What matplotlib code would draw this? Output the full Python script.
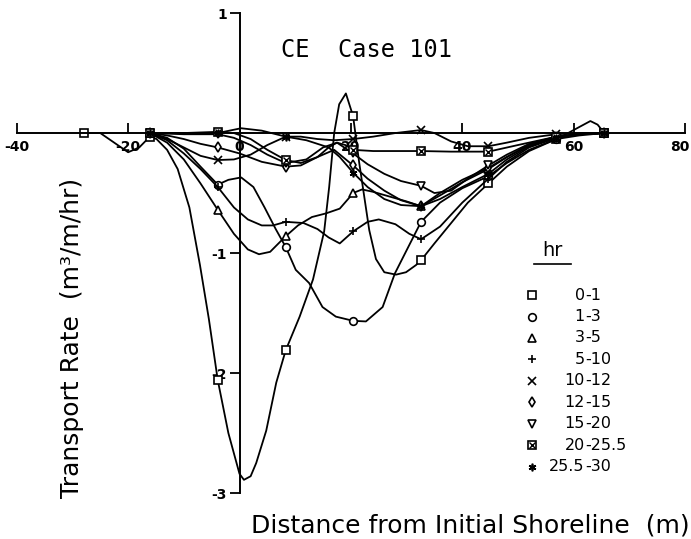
## CE Case 101 - transport rate profiles

import numpy as np
import matplotlib.pyplot as plt
import matplotlib.transforms as mtransforms

plt.rcParams['axes.unicode_minus'] = False

# stations where the measured values carry a symbol (m)
stations = [-28.0, -16.1, -3.9, 8.3, 20.4, 32.6, 44.7, 56.9, 65.5]

# time intervals (hr)
labels = ['0-1', '1-3', '3-5', '5-10', '10-12', '12-15', '15-20', '20-25.5', '25.5-30']

# curves (x in m, y in m3/m/hr)
x_01 = [-28.0, -25.0, -22.5, -20.0, -18.0, -16.1, -14.9, -13.0, -11.1, -9.0, -7.1, -5.5, -3.9,
        -2.0, 0.0, 0.8, 2.0, 3.0, 4.8, 6.6, 8.3, 10.8, 13.2, 15.2, 16.1, 17.0, 17.9, 19.1, 20.4,
        21.5, 22.4, 23.3, 24.5, 26.0, 28.1, 29.9, 31.7, 32.6, 35.0, 38.0, 41.0, 44.7, 48.0, 52.0,
        56.9, 59.0, 61.0, 63.0, 64.3, 65.5]
y_01 = [0.0, 0.0, -0.08, -0.16, -0.12, -0.03, -0.05, -0.14, -0.30, -0.62, -1.10, -1.55, -2.06,
        -2.50, -2.84, -2.89, -2.86, -2.75, -2.48, -2.08, -1.81, -1.53, -1.22, -0.82, -0.45, 0.00,
        0.24, 0.33, 0.14, -0.25, -0.53, -0.81, -1.05, -1.16, -1.18, -1.16, -1.10, -1.06, -0.92,
        -0.75, -0.58, -0.42, -0.28, -0.15, -0.05, 0.0, 0.05, 0.10, 0.07, 0.0]

x_13 = [-16.1, -13.0, -10.0, -7.0, -3.9, -2.0, 0.3, 2.5, 4.5, 6.5, 8.3, 10.1, 12.5, 14.9, 17.3,
        20.4, 22.7, 25.7, 27.9, 30.3, 32.6, 36.0, 40.0, 44.7, 48.0, 52.0, 56.9, 61.0, 65.5]
y_13 = [0.0, -0.04, -0.13, -0.28, -0.43, -0.39, -0.37, -0.45, -0.62, -0.80, -0.95, -1.14, -1.25,
        -1.45, -1.53, -1.565, -1.57, -1.45, -1.17, -0.95, -0.74, -0.58, -0.46, -0.36, -0.25,
        -0.14, -0.05, -0.02, 0.0]

x_35 = [-16.1, -13.0, -10.0, -7.0, -3.9, -1.0, 1.5, 3.5, 5.5, 7.0, 8.3, 10.5, 13.0, 15.5, 18.0,
        19.5, 20.4, 22.0, 24.0, 27.0, 30.0, 32.6, 36.0, 40.0, 44.7, 48.0, 52.0, 56.9, 61.0, 65.5]
y_35 = [0.0, -0.08, -0.22, -0.42, -0.64, -0.84, -0.97, -1.01, -0.99, -0.92, -0.86, -0.77, -0.70,
        -0.67, -0.63, -0.55, -0.50, -0.47, -0.49, -0.53, -0.57, -0.61, -0.52, -0.41, -0.30,
        -0.20, -0.10, -0.03, -0.01, 0.0]

x_510 = [-16.1, -13.0, -10.0, -7.0, -3.9, -1.0, 1.5, 4.0, 6.0, 8.3, 11.5, 14.0, 16.0, 18.0, 20.4,
         23.0, 25.0, 28.0, 30.5, 32.6, 36.0, 40.0, 44.7, 48.0, 52.0, 56.9, 61.0, 65.5]
y_510 = [0.0, -0.06, -0.17, -0.30, -0.45, -0.62, -0.72, -0.77, -0.77, -0.74, -0.75, -0.80, -0.87,
         -0.92, -0.82, -0.74, -0.72, -0.76, -0.84, -0.885, -0.78, -0.58, -0.38, -0.24, -0.12,
         -0.04, -0.01, 0.0]

x_1012 = [-16.1, -13.0, -10.0, -7.0, -3.9, -1.0, 2.0, 5.0, 8.3, 11.0, 14.0, 17.0, 20.4, 24.0,
          28.0, 32.6, 35.0, 38.0, 41.0, 44.7, 48.0, 52.0, 56.9, 61.0, 65.5]
y_1012 = [0.0, -0.05, -0.12, -0.19, -0.225, -0.22, -0.18, -0.10, -0.03, -0.03, -0.05, -0.06,
          -0.05, -0.03, 0.0, 0.025, 0.0, -0.07, -0.11, -0.11, -0.08, -0.04, -0.01, 0.0, 0.0]

x_1215 = [-16.1, -13.0, -10.0, -7.0, -3.9, 0.0, 4.0, 8.3, 11.0, 14.0, 17.0, 20.4, 23.0, 26.0,
          29.0, 32.6, 36.0, 40.0, 44.7, 48.0, 52.0, 56.9, 61.0, 65.5]
y_1215 = [0.0, -0.02, -0.05, -0.09, -0.12, -0.17, -0.24, -0.28, -0.27, -0.20, -0.14, -0.27,
          -0.38, -0.48, -0.56, -0.61, -0.50, -0.39, -0.29, -0.20, -0.10, -0.03, -0.01, 0.0]

x_1520 = [-16.1, -10.0, -3.9, -1.0, 2.0, 5.0, 8.3, 12.0, 15.0, 17.5, 20.4, 23.0, 26.0, 29.0,
          32.6, 35.0, 38.0, 41.0, 44.7, 48.0, 52.0, 56.9, 61.0, 65.5]
y_1520 = [0.0, -0.01, -0.01, -0.04, -0.10, -0.18, -0.25, -0.22, -0.12, -0.08, -0.17, -0.26,
          -0.34, -0.40, -0.44, -0.50, -0.48, -0.38, -0.27, -0.18, -0.09, -0.03, -0.01, 0.0]

x_2025 = [-16.1, -10.0, -3.9, -1.0, 2.0, 5.0, 8.3, 11.0, 14.0, 16.0, 17.5, 19.0, 20.4, 24.0,
          28.0, 32.6, 38.0, 44.7, 50.0, 56.9, 61.0, 65.5]
y_2025 = [0.0, 0.0, 0.01, 0.0, -0.05, -0.14, -0.225, -0.25, -0.20, -0.12, -0.08, -0.10, -0.14,
          -0.15, -0.15, -0.15, -0.155, -0.155, -0.10, -0.03, -0.01, 0.0]

x_2530 = [-16.1, -10.0, -3.9, 0.3, 4.0, 8.3, 12.0, 16.0, 18.0, 20.4, 23.0, 26.0, 29.0, 32.6,
          36.0, 40.0, 44.7, 48.0, 52.0, 56.9, 61.0, 65.5]
y_2530 = [0.0, 0.0, 0.0, 0.04, 0.02, -0.03, -0.06, -0.12, -0.20, -0.33, -0.45, -0.55, -0.60,
          -0.61, -0.55, -0.45, -0.34, -0.22, -0.11, -0.04, -0.01, 0.0]

xs = [x_01, x_13, x_35, x_510, x_1012, x_1215, x_1520, x_2025, x_2530]
ys = [y_01, y_13, y_35, y_510, y_1012, y_1215, y_1520, y_2025, y_2530]
marks = ['s', 'o', '^', '+', 'x', 'd', 'v', 's', (6, 2, 0)]

fig = plt.figure(figsize=(6.91, 5.39), dpi=100)
ax = fig.add_axes([0.0242, 0.0853, 0.9672, 0.8905])

for x, y, m in zip(xs, ys, marks):
    x = np.array(x)
    y = np.array(y)
    on = np.isin(x, stations)
    ax.plot(x, y, color='k', lw=1.3, marker=m, markevery=list(np.where(on)[0]),
            ms=5.5, mfc='white', mec='k', mew=1.2, zorder=2)

# cross inside the 20-25.5 squares
x = np.array(x_2025)
on = np.isin(x, stations)
ax.plot(x[on], np.array(y_2025)[on], 'x', color='k', ms=4, mew=1.0, zorder=3)

ax.set_xlim(-40, 80)
ax.set_ylim(-3, 1)
ax.spines['left'].set_position(('data', 0))
ax.spines['bottom'].set_position(('data', 0))
ax.spines['top'].set_visible(False)
ax.spines['right'].set_visible(False)
ax.spines['left'].set_linewidth(1.4)
ax.spines['bottom'].set_linewidth(1.4)

ax.set_xticks([-40, -20, 0, 20, 40, 60, 80])
ax.set_yticks([-3, -2, -1, 1])
ax.tick_params(axis='x', direction='in', length=7, width=1.3, pad=5, labelsize=10)
ax.tick_params(axis='y', direction='out', length=7, width=1.3, pad=2, labelsize=10)
for t in ax.get_xticklabels() + ax.get_yticklabels():
    t.set_fontweight('bold')
# keep the last label inside the figure
last = ax.get_xticklabels()[-1]
last.set_transform(last.get_transform() + mtransforms.ScaledTranslation(-5 / 100, 0, fig.dpi_scale_trans))

ax.text(7.49, 0.636, 'CE  Case 101', family='DejaVu Sans Mono', fontsize=17, va='baseline')

# legend drawn by hand
ax.text(56.1, -0.983, 'hr', fontsize=14, ha='center', va='center')
ax.plot([52.9, 59.5], [-1.09, -1.09], color='k', lw=1.2)
for i, (lab, m) in enumerate(zip(labels, marks)):
    yy = -1.35 - i * 0.179
    ax.plot(52.5, yy, marker=m, ms=5.5, mfc='white', mec='k', mew=1.2, color='k')
    if lab == '20-25.5':
        ax.plot(52.5, yy, marker='x', ms=4, mew=1.0, color='k')
    left, right = lab.split('-', 1)
    ax.text(62.0, yy, left, fontsize=11.5, ha='right', va='center')
    ax.text(62.0, yy, '-' + right, fontsize=11.5, ha='left', va='center')

fig.text(72 / 691, 1 - 338 / 539, 'Transport Rate  (m³/m/hr)', rotation=90,
         ha='center', va='center', fontsize=18)
fig.text(690 / 691, 1 - 525 / 539, 'Distance from Initial Shoreline  (m)',
         ha='right', va='center', fontsize=18)

fig.savefig('out.png', dpi=100)
